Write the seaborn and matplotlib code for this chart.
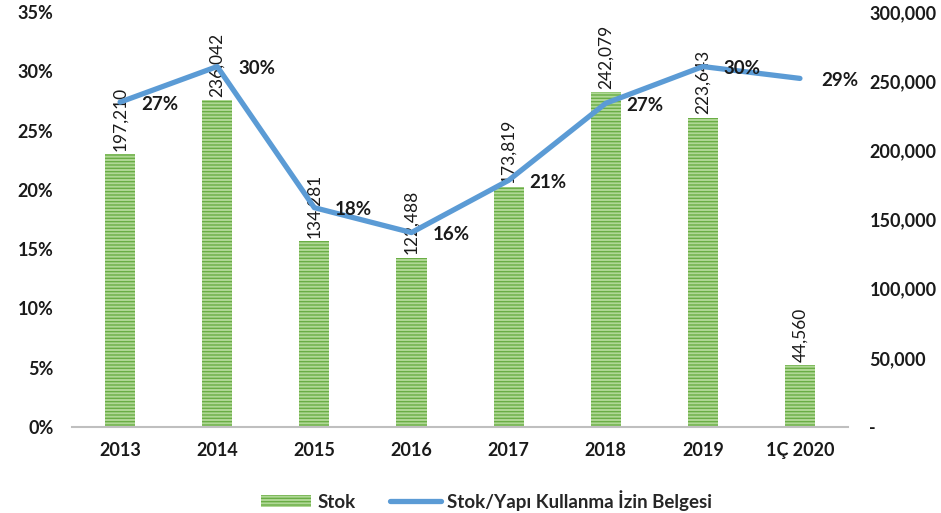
import matplotlib
matplotlib.use("Agg")
import matplotlib.pyplot as plt
import seaborn as sns
import pandas as pd
import numpy as np
from matplotlib.ticker import FuncFormatter, MultipleLocator

categories = ["2013", "2014", "2015", "2016", "2017", "2018", "2019", "1Ç 2020"]
stok = [197210, 236042, 134281, 122488, 173819, 242079, 223643, 44560]
ratio = [27.4, 30.4, 18.5, 16.4, 20.8, 27.3, 30.4, 29.4]

sns.set_theme(style="white")
plt.rcParams["font.family"] = ["Lato", "DejaVu Sans"]
plt.rcParams["hatch.linewidth"] = 1.0

df = pd.DataFrame({"cat": categories, "stok": stok, "ratio": ratio,
                   "idx": np.arange(len(categories))})

fig = plt.figure(figsize=(9.41, 5.13), dpi=100)
ax = fig.add_axes([0.076, 0.1676, 0.8257, 0.809])

sns.barplot(data=df, x="cat", y="stok", ax=ax, width=0.31,
            color="#b0d896", edgecolor="#6aad45", linewidth=0,
            hatch="-----", label="Stok", saturation=1)
ax.set_ylim(0, 300000)

for rect, v in zip(ax.patches, stok):
    ax.annotate(f"{v:,}", (rect.get_x() + rect.get_width() / 2, rect.get_height()),
                xytext=(0, 2.5), textcoords="offset points", rotation=90,
                ha="center", va="bottom", fontsize=12.5, color="#1a1a1a")

ax2 = ax.twinx()
sns.lineplot(data=df, x="idx", y="ratio", ax=ax2, color="#5b9bd5",
             linewidth=3.8, label="Stok/Yapı Kullanma İzin Belgesi", legend=False)
ax2.set_ylim(0, 35)

# swap sides: percentages on the left, stock on the right
ax.yaxis.tick_right()
ax.yaxis.set_label_position("right")
ax2.yaxis.tick_left()
ax2.yaxis.set_label_position("left")

ax.yaxis.set_major_locator(MultipleLocator(50000))
ax.yaxis.set_major_formatter(FuncFormatter(lambda v, p: "-" if v == 0 else f"{int(v):,}"))
ax2.yaxis.set_major_locator(MultipleLocator(5))
ax2.yaxis.set_major_formatter(FuncFormatter(lambda v, p: f"{int(round(v))}%"))

for i, r in enumerate(ratio):
    ax2.annotate(f"{int(round(r))}%", (i, r), xytext=(15, -1.5), textcoords="offset points",
                 ha="left", va="center", fontsize=13.5, fontweight="bold", color="#1a1a1a")

ax.set_xlim(-0.5, len(categories) - 0.5)
for a in (ax, ax2):
    a.set_xlabel("")
    a.set_ylabel("")
    for s in a.spines.values():
        s.set_visible(False)
    a.tick_params(length=0)
ax.spines["bottom"].set_visible(True)
ax.spines["bottom"].set_color("#bfbfbf")
ax.spines["bottom"].set_linewidth(1.5)

ax.tick_params(axis="x", pad=11, labelsize=13)
ax.tick_params(axis="y", pad=15, labelsize=13)
ax2.tick_params(axis="y", pad=13, labelsize=13)
for lbl in ax.get_xticklabels() + ax.get_yticklabels() + ax2.get_yticklabels():
    lbl.set_fontweight("bold")
    lbl.set_color("#1a1a1a")

if ax.get_legend():
    ax.get_legend().remove()
h1, l1 = ax.get_legend_handles_labels()
h2, l2 = ax2.get_legend_handles_labels()
fig.legend(h1 + h2, l1 + l2, loc="center", bbox_to_anchor=(0.517, 0.025), ncol=2,
           frameon=False, prop={"weight": "bold", "size": 13.5}, handlelength=2.7,
           handleheight=0.55, handletextpad=0.35, columnspacing=1.8)

fig.savefig("out.png", dpi=100)
